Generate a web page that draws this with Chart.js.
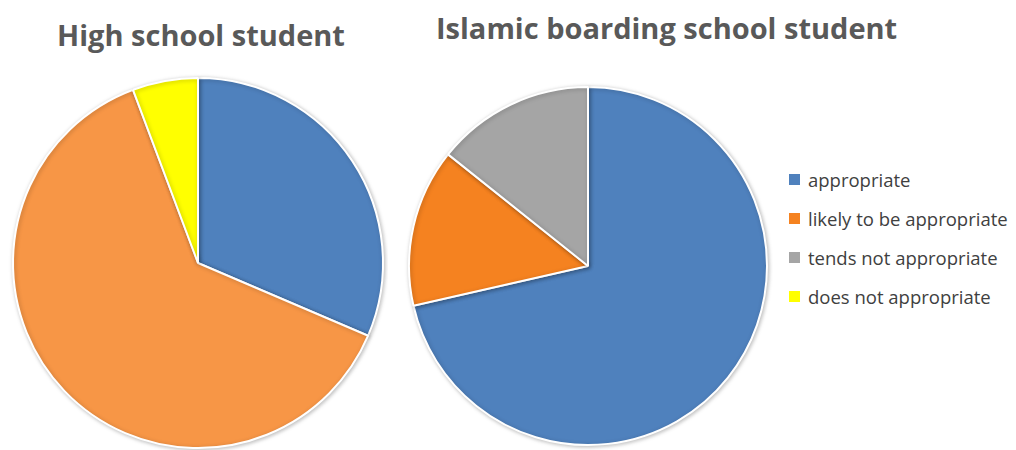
<!DOCTYPE html>
<html>
<head>
<meta charset="utf-8">
<script src="https://cdn.jsdelivr.net/npm/chart.js@4.4.1/dist/chart.umd.min.js"></script>
<style>
  body { margin: 0; background: #fff; width: 1016px; height: 450px; position: relative; overflow: hidden;
         font-family: "Open Sans", "Liberation Sans", sans-serif; }
  .title { position: absolute; font-weight: bold; color: #595959; font-size: 29px; white-space: nowrap; }
  #t1 { left: 0; width: 402px; text-align: center; top: 15px; }
  #t2 { left: 436px; top: 8px; }
  #c1wrap { position: absolute; left: 8px; top: 73px; width: 380px; height: 380px; }
  #c2wrap { position: absolute; left: 403px; top: 81px; width: 370px; height: 370px; }
  #legend { position: absolute; left: 789px; top: 160px; list-style: none; margin: 0; padding: 0; }
  #legend li { height: 39px; display: flex; align-items: center; font-size: 18.5px; color: #404040; }
  #legend li span.box { width: 11px; height: 11px; margin-right: 8px; display: inline-block; }
</style>
</head>
<body>
<div class="title" id="t1">High school student</div>
<div class="title" id="t2">Islamic boarding school student</div>
<div id="c1wrap"><canvas id="chartHigh"></canvas></div>
<div id="c2wrap"><canvas id="chartBoarding"></canvas></div>
<ul id="legend"></ul>
<script>
// categorias e valores
const categories = ['appropriate', 'likely to be appropriate', 'tends not appropriate', 'does not appropriate'];
const highSchool = [11, 22, 0, 2];
const boarding   = [10, 2, 2, 0];

const coloursHigh     = ['#4F81BD', '#F79646', '#A5A5A5', '#FFFF00'];
const coloursBoarding = ['#4F81BD', '#F58220', '#A5A5A5', '#FFFF00'];

// sombra leve atrás das fatias
const shadow = {
  id: 'shadow',
  beforeDatasetDraw(chart) {
    const ctx = chart.ctx;
    ctx.save();
    ctx.shadowColor = 'rgba(0,0,0,0.25)';
    ctx.shadowBlur = 4;
    ctx.shadowOffsetX = 1;
    ctx.shadowOffsetY = 1;
  },
  afterDatasetDraw(chart) {
    chart.ctx.restore();
  }
};

function makePie(id, values, colours, pad) {
  const ctx = document.getElementById(id).getContext('2d');
  return new Chart(ctx, {
    type: 'pie',
    data: {
      labels: categories,
      datasets: [{
        data: values,
        backgroundColor: colours,
        borderColor: '#ffffff',
        borderWidth: 2
      }]
    },
    options: {
      responsive: true,
      maintainAspectRatio: false,
      animation: false,
      layout: { padding: pad },
      plugins: {
        legend: { display: false },
        tooltip: { enabled: false }
      }
    },
    plugins: [shadow]
  });
}

makePie('chartHigh', highSchool, coloursHigh, 4);
makePie('chartBoarding', boarding, coloursBoarding, 5);

// legenda simples em HTML
document.getElementById('legend').innerHTML = categories.map((c, i) =>
  `<li><span class="box" style="background:${coloursBoarding[i]}"></span>${c}</li>`
).join('');
</script>
</body>
</html>
